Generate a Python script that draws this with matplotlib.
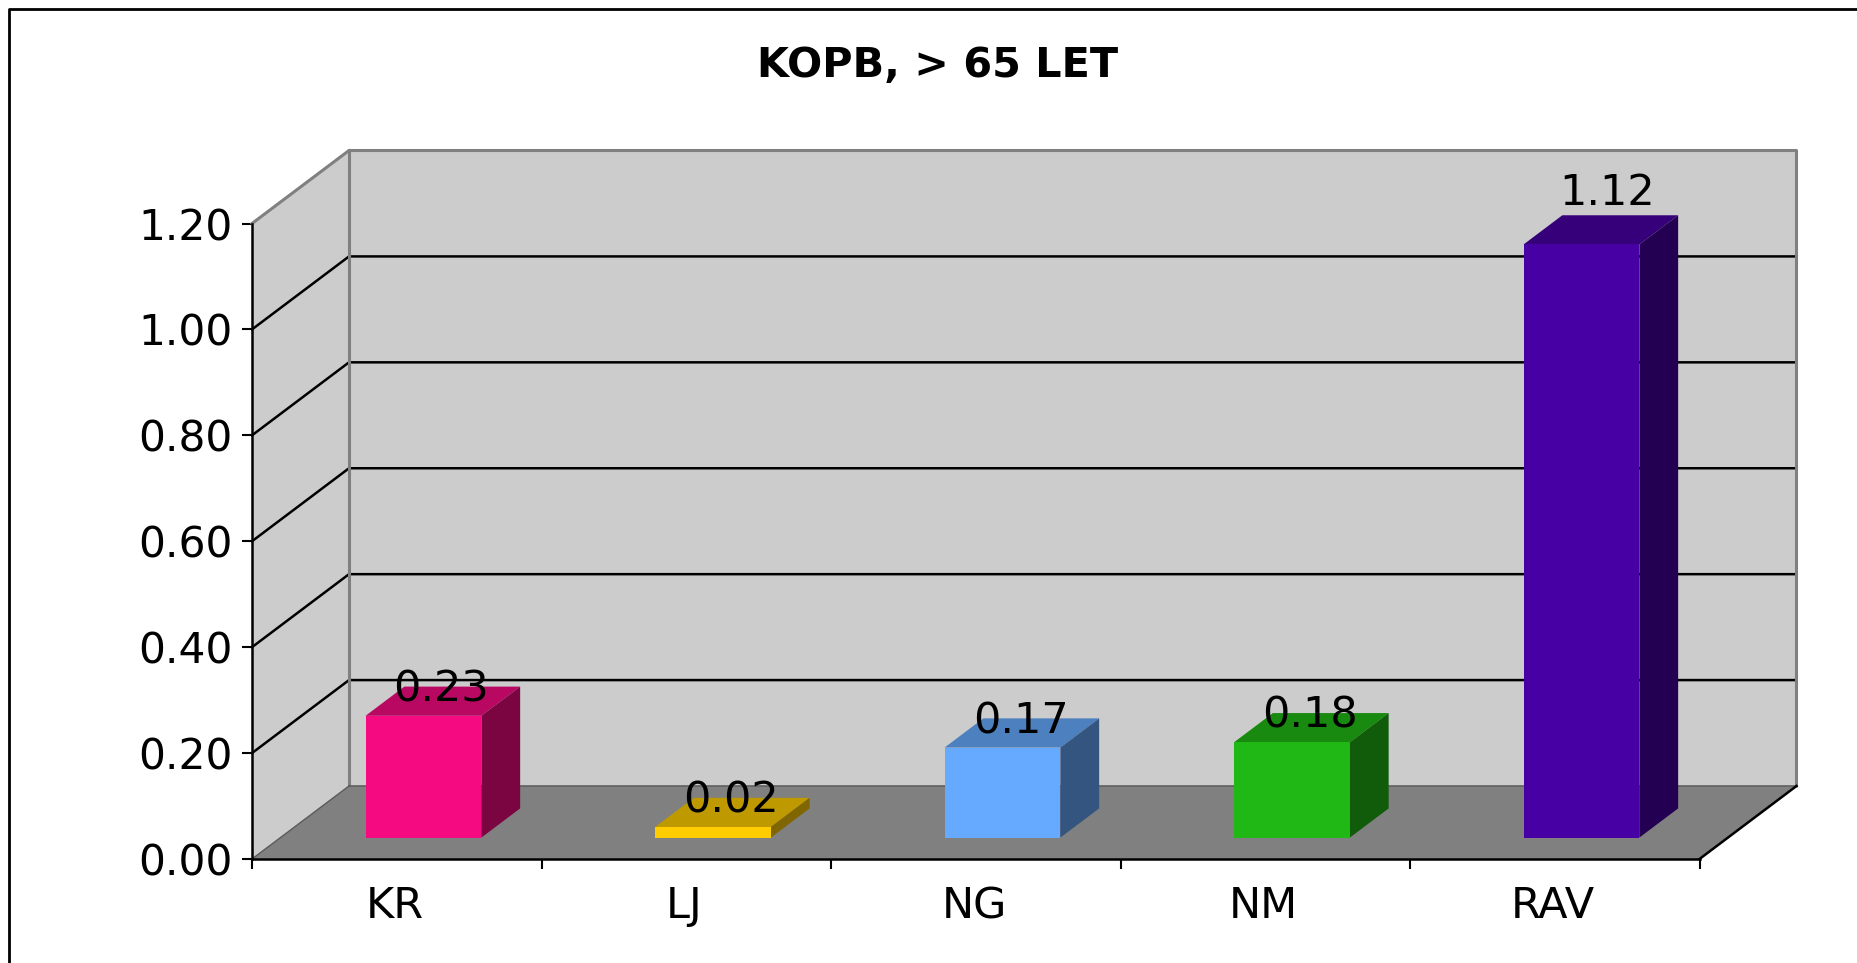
import matplotlib
matplotlib.use('Agg')
import matplotlib.pyplot as plt
from matplotlib.lines import Line2D
from matplotlib.patches import Polygon

# data
categories = ['KR', 'LJ', 'NG', 'NM', 'RAV']
values = [0.23, 0.02, 0.17, 0.18, 1.12]
value_labels = ['0.23', '0.02', '0.17', '0.18', '1.12']
y_ticks = [0.0, 0.2, 0.4, 0.6, 0.8, 1.0, 1.2]
y_tick_labels = ['0.00', '0.20', '0.40', '0.60', '0.80', '1.00', '1.20']
front_colors = ['#F50A82', '#FFCC00', '#66AAFF', '#1FB814', '#4700A3']

W, H = 1857, 963
LEFT, RIGHT, TOP, BOTTOM = 252, 1699.5, 223.5, 859

fig = plt.figure(figsize=(W / 100, H / 100), dpi=100, facecolor='white')
ax = fig.add_axes([LEFT / W, 1 - BOTTOM / H, (RIGHT - LEFT) / W, (BOTTOM - TOP) / H])
ax.set_xlim(0, 5)
ax.set_ylim(0, 1.2)
ax.patch.set_visible(False)

# 3D depth of the box, in data units
px_x = 5 / (RIGHT - LEFT)
px_y = 1.2 / (BOTTOM - TOP)
dx = 97 * px_x
dy = 73 * px_y


def shade(color, f):
    r, g, b = matplotlib.colors.to_rgb(color)
    return (r * f, g * f, b * f)


def poly(points, color, z, edge='none', lw=0):
    ax.add_patch(Polygon(points, closed=True, facecolor=color, edgecolor=edge,
                         linewidth=lw, zorder=z, clip_on=False))


# walls and floor
poly([(dx, dy), (5 + dx, dy), (5 + dx, 1.2 + dy), (dx, 1.2 + dy)], '#CCCCCC', 1)
poly([(0, 0), (dx, dy), (dx, 1.2 + dy), (0, 1.2)], '#CCCCCC', 1)

for v in y_ticks[1:-1]:
    ax.plot([0, dx, 5 + dx], [v, v + dy, v + dy], color='black', lw=1.8, zorder=2,
            clip_on=False, solid_joinstyle='miter')

# wall outline
ax.plot([0, dx, 5 + dx, 5 + dx], [1.2, 1.2 + dy, 1.2 + dy, dy], color='#808080', lw=2.2,
        zorder=2, clip_on=False)
ax.plot([dx, dx], [dy, 1.2 + dy], color='#808080', lw=2.2, zorder=2, clip_on=False)

poly([(0, 0), (5, 0), (5 + dx, dy), (dx, dy)], '#808080', 3)
ax.plot([dx, 5 + dx], [dy, dy], color='#606060', lw=1.2, zorder=3, clip_on=False)
ax.plot([0, dx], [0, dy], color='#5A5A5A', lw=1, zorder=3, clip_on=False)
ax.plot([5, 5 + dx], [0, dy], color='black', lw=1.8, zorder=4, clip_on=False)

# bars
bar_w = 0.40
front_d = 0.30
back_d = 0.70
shift = -2.4 * px_x
for i, (v, c) in enumerate(zip(values, front_colors)):
    x0 = i + 0.5 - bar_w / 2 + front_d * dx + shift
    x1 = x0 + bar_w
    y0 = front_d * dy - 0.5 * px_y
    y1 = y0 + v
    ox = (back_d - front_d) * dx
    oy = (back_d - front_d) * dy
    poly([(x0, y1), (x1, y1), (x1 + ox, y1 + oy), (x0 + ox, y1 + oy)], shade(c, 0.75), 5)
    poly([(x1, y0), (x1 + ox, y0 + oy), (x1 + ox, y1 + oy), (x1, y1)], shade(c, 0.5), 5)
    poly([(x0, y0), (x1, y0), (x1, y1), (x0, y1)], c, 5)

# value labels, RAV one sits higher and further right in the original
for i, (v, s) in enumerate(zip(values, value_labels)):
    xc = i + 0.5 + front_d * dx + 18 * px_x + shift
    yc = front_d * dy + v + 26 * px_y
    if s == '1.12':
        xc += 8 * px_x
        yc += 25 * px_y
    ax.text(xc, yc, s, ha='center', va='center', fontsize=31, color='black', zorder=7)

# axes
for name in ['top', 'right']:
    ax.spines[name].set_visible(False)
for name in ['left', 'bottom']:
    ax.spines[name].set_linewidth(1.8)
    ax.spines[name].set_zorder(6)

ax.set_yticks(y_ticks)
ax.set_yticklabels(y_tick_labels, fontsize=30.5)
ax.tick_params(axis='y', length=7, width=1.5, pad=7)
ax.set_xticks(range(6))
ax.set_xticklabels([])
ax.tick_params(axis='x', which='major', length=7, width=1.5)
ax.set_xticks([i + 0.494 for i in range(5)], minor=True)
ax.set_xticklabels(categories, minor=True, fontsize=31)
ax.tick_params(axis='x', which='minor', length=0, pad=19)

fig.text(938 / W, 1 - 66 / H, 'KOPB, > 65 LET', ha='center', va='center',
         fontsize=29.8, fontweight='bold', color='black')

# chart frame, cut off at right and bottom
fig.add_artist(Line2D([8.5 / W, 8.5 / W, 1], [0, 1 - 9.5 / H, 1 - 9.5 / H],
                      color='black', lw=2))

fig.savefig('out.png', dpi=100)
